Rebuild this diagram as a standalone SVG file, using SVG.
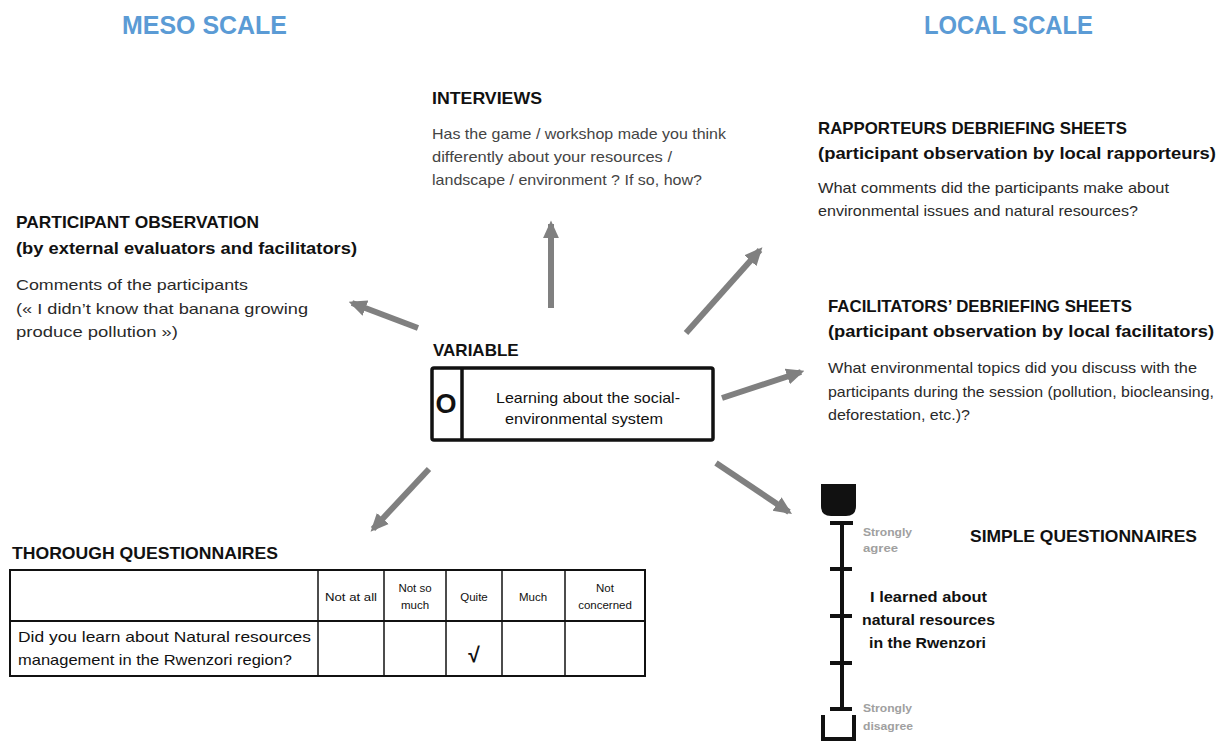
<svg xmlns="http://www.w3.org/2000/svg" width="1226" height="742" viewBox="0 0 1226 742">
<defs>
<marker id="ah" viewBox="0 0 10 10" refX="8" refY="5" markerWidth="3" markerHeight="3" orient="auto" markerUnits="strokeWidth">
<path d="M0,0.5 L10,5 L0,9.5 z" fill="#808080"/>
</marker>
<style>
text{font-family:"Liberation Sans",Arial,sans-serif;}
.scale{font-size:25px;font-weight:bold;fill:#5b9bd5;}
.h{font-size:16.5px;font-weight:bold;fill:#111;}
.b{font-size:15px;fill:#2a2a2a;}
.th{font-size:11.5px;fill:#111;text-anchor:middle;}
.arr{stroke:#808080;stroke-width:6;fill:none;marker-end:url(#ah);}
.ln{stroke:#111;fill:none;}
.gray{font-size:10px;font-weight:bold;fill:#a0a0a0;}
.tq{font-size:15px;font-weight:bold;fill:#111;}
</style>
</defs>
<rect width="1226" height="742" fill="#fff"/>

<text class="scale" x="122" y="34" textLength="165" lengthAdjust="spacingAndGlyphs">MESO SCALE</text>
<text class="scale" x="924" y="34" textLength="169" lengthAdjust="spacingAndGlyphs">LOCAL SCALE</text>

<g id="connectors">
<line class="arr" x1="551" y1="308" x2="551" y2="224"/>
<line class="arr" x1="686" y1="333" x2="760" y2="250"/>
<line class="arr" x1="722" y1="398" x2="801" y2="372"/>
<line class="arr" x1="418" y1="328" x2="352" y2="303"/>
<line class="arr" x1="429" y1="469" x2="373" y2="529"/>
<line class="arr" x1="716" y1="463" x2="789" y2="512"/>
</g>

<g id="variable">
<text class="h" x="433" y="356" style="font-size:17px">VARIABLE</text>
<rect x="432" y="368" width="281" height="72" rx="2" class="ln" stroke-width="3.5"/>
<line x1="462" y1="368" x2="462" y2="440" class="ln" stroke-width="3.5"/>
<text x="446" y="413" text-anchor="middle" style="font-size:27px;font-weight:bold;fill:#111">O</text>
<text class="b" x="496" y="403" textLength="184" lengthAdjust="spacingAndGlyphs" style="fill:#111">Learning about the social-</text>
<text class="b" x="505" y="424" textLength="158" lengthAdjust="spacingAndGlyphs" style="fill:#111">environmental system</text>
</g>

<g id="interviews">
<text class="h" x="432" y="104" textLength="110" lengthAdjust="spacingAndGlyphs">INTERVIEWS</text>
<text class="b" x="432" y="139" textLength="294" lengthAdjust="spacingAndGlyphs" style="fill:#444">Has the game / workshop made you think</text>
<text class="b" x="432" y="162" textLength="240" lengthAdjust="spacingAndGlyphs" style="fill:#444">differently about your resources /</text>
<text class="b" x="432" y="185" textLength="270" lengthAdjust="spacingAndGlyphs" style="fill:#444">landscape / environment ? If so, how?</text>
</g>

<g id="participant-observation">
<text class="h" x="16" y="228" textLength="243" lengthAdjust="spacingAndGlyphs">PARTICIPANT OBSERVATION</text>
<text class="h" x="16" y="254" textLength="341" lengthAdjust="spacingAndGlyphs">(by external evaluators and facilitators)</text>
<text class="b" x="16" y="290" textLength="232" lengthAdjust="spacingAndGlyphs">Comments of the participants</text>
<text class="b" x="16" y="314" textLength="292" lengthAdjust="spacingAndGlyphs">(« I didn’t know that banana growing</text>
<text class="b" x="16" y="337" textLength="162" lengthAdjust="spacingAndGlyphs">produce pollution »)</text>
</g>

<g id="rapporteurs">
<text class="h" x="818" y="134" textLength="309" lengthAdjust="spacingAndGlyphs">RAPPORTEURS DEBRIEFING SHEETS</text>
<text class="h" x="818" y="159" textLength="398" lengthAdjust="spacingAndGlyphs">(participant observation by local rapporteurs)</text>
<text class="b" x="818" y="193" textLength="351" lengthAdjust="spacingAndGlyphs">What comments did the participants make about</text>
<text class="b" x="818" y="216" textLength="320" lengthAdjust="spacingAndGlyphs">environmental issues and natural resources?</text>
</g>

<g id="facilitators">
<text class="h" x="828" y="312" textLength="304" lengthAdjust="spacingAndGlyphs">FACILITATORS’ DEBRIEFING SHEETS</text>
<text class="h" x="828" y="337" textLength="386" lengthAdjust="spacingAndGlyphs">(participant observation by local facilitators)</text>
<text class="b" x="828" y="373" textLength="369" lengthAdjust="spacingAndGlyphs">What environmental topics did you discuss with the</text>
<text class="b" x="828" y="397" textLength="386" lengthAdjust="spacingAndGlyphs">participants during the session (pollution, biocleansing,</text>
<text class="b" x="828" y="420" textLength="142" lengthAdjust="spacingAndGlyphs">deforestation, etc.)?</text>
</g>

<g id="thorough-questionnaires">
<text class="h" x="12" y="559" textLength="266" lengthAdjust="spacingAndGlyphs">THOROUGH QUESTIONNAIRES</text>
<rect x="10" y="570" width="635" height="106" class="ln" stroke-width="2"/>
<line x1="10" y1="621" x2="645" y2="621" class="ln" stroke-width="2"/>
<line x1="318" y1="570" x2="318" y2="676" class="ln" stroke-width="1.5"/>
<line x1="384" y1="570" x2="384" y2="676" class="ln" stroke-width="1.5"/>
<line x1="446" y1="570" x2="446" y2="676" class="ln" stroke-width="1.5"/>
<line x1="502" y1="570" x2="502" y2="676" class="ln" stroke-width="1.5"/>
<line x1="565" y1="570" x2="565" y2="676" class="ln" stroke-width="1.5"/>
<text class="th" x="351" y="601" textLength="52" lengthAdjust="spacingAndGlyphs">Not at all</text>
<text class="th" x="415" y="592">Not so</text>
<text class="th" x="415" y="609">much</text>
<text class="th" x="474" y="601">Quite</text>
<text class="th" x="533" y="601">Much</text>
<text class="th" x="605" y="592">Not</text>
<text class="th" x="605" y="609">concerned</text>
<text class="b" x="18" y="642" textLength="293" lengthAdjust="spacingAndGlyphs" style="fill:#111">Did you learn about Natural resources</text>
<text class="b" x="18" y="665" textLength="274" lengthAdjust="spacingAndGlyphs" style="fill:#111">management in the Rwenzori region?</text>
<text x="474" y="662" text-anchor="middle" style="font-size:21px;font-weight:bold;fill:#111">√</text>
</g>

<g id="simple-questionnaires">
<text class="h" x="970" y="542" textLength="227" lengthAdjust="spacingAndGlyphs">SIMPLE QUESTIONNAIRES</text>
<path d="M821,484 H856 V506 Q856,516 846,516 H831 Q821,516 821,506 Z" fill="#111"/>
<line x1="842" y1="523" x2="842" y2="709" stroke="#111" stroke-width="4"/>
<line x1="830" y1="523" x2="853" y2="523" stroke="#111" stroke-width="4"/>
<line x1="830" y1="569" x2="852" y2="569" stroke="#111" stroke-width="4"/>
<line x1="830" y1="616" x2="852" y2="616" stroke="#111" stroke-width="4"/>
<line x1="830" y1="663" x2="852" y2="663" stroke="#111" stroke-width="4"/>
<line x1="830" y1="709" x2="852" y2="709" stroke="#111" stroke-width="4"/>
<path d="M823,715 V739 H854 V715" class="ln" stroke-width="4"/>
<text class="gray" x="863" y="536" textLength="49" lengthAdjust="spacingAndGlyphs">Strongly</text>
<text class="gray" x="863" y="552" textLength="35" lengthAdjust="spacingAndGlyphs">agree</text>
<text class="gray" x="863" y="712" textLength="49" lengthAdjust="spacingAndGlyphs">Strongly</text>
<text class="gray" x="863" y="730" textLength="50" lengthAdjust="spacingAndGlyphs">disagree</text>
<text class="tq" x="870" y="602" textLength="117" lengthAdjust="spacingAndGlyphs">I learned about</text>
<text class="tq" x="862" y="625" textLength="133" lengthAdjust="spacingAndGlyphs">natural resources</text>
<text class="tq" x="869" y="648" textLength="117" lengthAdjust="spacingAndGlyphs">in the Rwenzori</text>
</g>
</svg>
